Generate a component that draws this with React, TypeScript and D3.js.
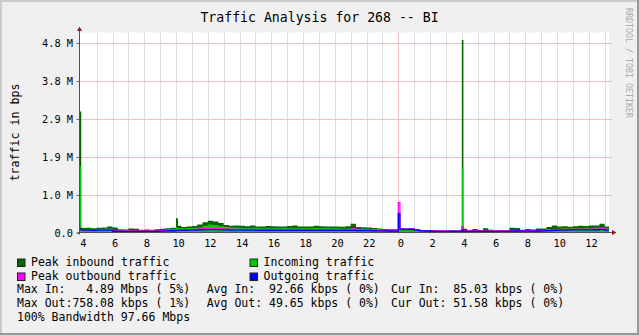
import React from 'react';
import * as d3 from 'd3';

const TITLE = 'Traffic Analysis for 268 -- BI';
const Y_TITLE = 'traffic in bps';
const WATERMARK = 'RRDTOOL / TOBI OETIKER';

// time in hours since midnight of the first day
const START_HOUR = 3.92;
const END_HOUR = 37.27;
const SLOT_START = 4;
const SLOTS_PER_HOUR = 3;
const Y_MAX = 5079000;

// 20-minute samples (kbps), 04:00 day 1 to 13:00 day 2
const peakInKbps = [
  115, 120, 110, 118, 125, 150, 130, 80, 75, 100, 95, 70, 75, 72, 80, 95, 110, 120,
  170, 140, 150, 165, 200, 260, 300, 280, 240, 190, 170, 180, 170, 160, 175, 155, 150, 165,
  160, 150, 155, 165, 175, 150, 150, 155, 170, 160, 150, 155, 150, 145, 160, 220, 140, 135,
  130, 115, 100, 90, 85, 80,
  75, 72, 75, 70, 65, 62, 55, 52, 50, 50, 55, 52, 95, 60, 90, 65, 110, 70,
  50, 52, 55, 120, 115, 70, 90, 75, 100, 100, 140, 180, 150, 160, 145, 160, 170, 165,
  175, 180, 220, 150,
];
const inKbps = [
  90, 88, 92, 90, 95, 100, 60, 55, 52, 55, 58, 52, 50, 55, 58, 65, 75, 85,
  105, 110, 115, 120, 125, 170, 200, 190, 160, 140, 130, 125, 120, 115, 118, 112, 110, 115,
  110, 108, 112, 110, 115, 108, 105, 110, 112, 108, 112, 105, 105, 100, 102, 100, 98, 95,
  92, 85, 80, 70, 68, 65,
  60, 58, 60, 55, 50, 48, 42, 40, 40, 40, 42, 40, 45, 42, 44, 45, 44, 42,
  40, 40, 42, 55, 60, 52, 55, 58, 60, 65, 80, 90, 100, 105, 110, 110, 115, 120,
  115, 118, 125, 105,
];
const peakOutKbps = [
  72, 75, 70, 74, 76, 80, 45, 40, 38, 40, 42, 38, 38, 40, 42, 48, 52, 58,
  70, 72, 75, 80, 85, 95, 100, 95, 90, 85, 82, 80, 80, 78, 76, 75, 74, 78,
  74, 72, 74, 75, 76, 72, 72, 74, 75, 74, 75, 72, 72, 70, 72, 90, 68, 66,
  65, 60, 55, 50, 48, 45,
  95, 90, 92, 70, 50, 45, 40, 38, 38, 38, 40, 38, 45, 40, 40, 40, 40, 38,
  38, 38, 40, 45, 48, 42, 45, 46, 48, 52, 60, 68, 75, 78, 80, 82, 85, 84,
  85, 86, 95, 80,
];
const outKbps = [
  58, 60, 57, 60, 58, 62, 32, 30, 28, 30, 30, 28, 28, 30, 32, 35, 40, 45,
  55, 55, 58, 62, 65, 70, 75, 72, 68, 65, 62, 60, 60, 58, 58, 56, 55, 57,
  55, 54, 55, 56, 57, 54, 54, 55, 56, 55, 56, 54, 54, 52, 53, 52, 50, 50,
  48, 45, 42, 40, 38, 36,
  85, 80, 82, 60, 40, 38, 32, 30, 30, 30, 30, 30, 32, 30, 30, 30, 30, 28,
  28, 28, 30, 35, 38, 34, 36, 37, 38, 42, 48, 55, 60, 62, 65, 66, 68, 66,
  68, 70, 72, 60,
];

// short spikes (kbps)
const spikeStart = [3.92, 10.0, 24.0, 28.0];
const spikeEnd = [4.03, 10.12, 24.1, 28.1];
const spikePeakIn = [3070, 360, 80, 4890];
const spikeIn = [1680, 130, 60, 1610];
const spikePeakOut = [120, 75, 758, 140];
const spikeOut = [90, 55, 475, 60];

const yTickValues = [0, 960000, 1920000, 2880000, 3840000, 4800000];
const yTickLabels = ['0.0', '1.0 M', '1.9 M', '2.9 M', '3.8 M', '4.8 M'];
const xLabelHours = [4, 6, 8, 10, 12, 14, 16, 18, 20, 22, 24, 26, 28, 30, 32, 34, 36];
const majorHours = [24];

const legendLabels = ['Peak inbound traffic', 'Incoming traffic', 'Peak outbound traffic', 'Outgoing traffic'];
const legendColors = ['#006600', '#00CC00', '#FF00FF', '#0000FF'];

const statsIn = ['Max In:   4.89 Mbps ( 5%)', 'Avg In:  92.66 kbps ( 0%)', 'Cur In:  85.03 kbps ( 0%)'];
const statsOut = ['Max Out:758.08 kbps ( 1%)', 'Avg Out: 49.65 kbps ( 0%)', 'Cur Out: 51.58 kbps ( 0%)'];
const bandwidthLine = '100% Bandwidth 97.66 Mbps';

type P = { t: number; pin: number; inn: number; pout: number; out: number };

function buildPoints(): P[] {
  const base: P[] = peakInKbps.map((v, i) => ({
    t: SLOT_START + i / SLOTS_PER_HOUR,
    pin: v * 1000,
    inn: inKbps[i] * 1000,
    pout: peakOutKbps[i] * 1000,
    out: outKbps[i] * 1000,
  }));
  const pts = base.filter(
    (p) => !spikeStart.some((s, k) => p.t >= s - 1e-6 && p.t < spikeEnd[k] - 1e-6)
  );
  spikeStart.forEach((s, k) => {
    pts.push({
      t: s,
      pin: spikePeakIn[k] * 1000,
      inn: spikeIn[k] * 1000,
      pout: spikePeakOut[k] * 1000,
      out: spikeOut[k] * 1000,
    });
    const idx = Math.max(
      0,
      Math.min(base.length - 1, Math.floor((spikeEnd[k] - SLOT_START) * SLOTS_PER_HOUR + 1e-6))
    );
    pts.push({ ...base[idx], t: spikeEnd[k] });
  });
  pts.sort((a, b) => a.t - b.t);
  pts.push({ ...pts[pts.length - 1], t: END_HOUR });
  return pts;
}

const FONT = "'DejaVu Sans Mono', monospace";

export default function App() {
  const W = 639;
  const H = 335;
  const left = 79.5;
  const right = 609;
  const top = 32.5;
  const bottom = 232.5;

  const x = d3.scaleLinear().domain([START_HOUR, END_HOUR]).range([left, right]);
  const y = d3.scaleLinear().domain([0, Y_MAX]).range([bottom, top]);
  const pts = buildPoints();

  const areaOf = (f: (d: P) => number) =>
    d3
      .area<P>()
      .x((d) => x(d.t))
      .y0(y(0))
      .y1((d) => y(f(d)))
      .curve(d3.curveStepAfter)(pts) || '';
  const lineOf = (f: (d: P) => number) =>
    d3
      .line<P>()
      .x((d) => x(d.t))
      .y((d) => y(f(d)))
      .curve(d3.curveStepAfter)(pts) || '';

  const gridHours = d3.range(Math.ceil(START_HOUR), Math.floor(END_HOUR) + 1);

  return (
    <svg
      width={W}
      height={H}
      style={{ position: 'absolute', left: 0, top: 0, display: 'block' }}
      fontFamily={FONT}
    >
      <defs>
        <clipPath id="plotclip">
          <rect x={left} y={top} width={right - left} height={bottom - top} />
        </clipPath>
      </defs>
      <rect x={0} y={0} width={W} height={H} fill="#F0F0F0" />
      {/* 3D border */}
      <rect x={0} y={0} width={W} height={2} fill="#CBCBCB" />
      <rect x={0} y={0} width={2} height={H} fill="#CBCBCB" />
      <rect x={0} y={H - 2} width={W} height={2} fill="#999999" />
      <rect x={W - 2} y={0} width={2} height={H} fill="#999999" />

      <rect x={left} y={top} width={right - left} height={bottom - top} fill="#FFFFFF" />

      {/* vertical grid */}
      {gridHours
        .filter((h) => x(h) - left > 2 && x(h) <= right)
        .map((h) => {
          const xx = Math.round(x(h)) + 0.5;
          const major = majorHours.includes(h);
          return (
            <line
              key={'vg' + h}
              x1={xx}
              x2={xx}
              y1={top}
              y2={bottom + 2}
              stroke={major ? '#F2C0C0' : '#DEDEDE'}
              strokeWidth={1}
            />
          );
        })}
      {/* horizontal grid */}
      {yTickValues.slice(1).map((v) => {
        const yy = Math.round(y(v)) + 0.5;
        return (
          <line key={'hg' + v} x1={left} x2={right + 3} y1={yy} y2={yy} stroke="#F0C0C0" strokeWidth={1} />
        );
      })}

      <g clipPath="url(#plotclip)">
        <path d={areaOf((d) => d.pin)} fill="#006600" />
        <path d={areaOf((d) => d.inn)} fill="#00CC00" />
        <path d={lineOf((d) => d.pout)} fill="none" stroke="#FF00FF" strokeWidth={1.3} />
        <path d={lineOf((d) => d.out)} fill="none" stroke="#0000FF" strokeWidth={1.3} />
      </g>

      {/* y ticks & labels */}
      {yTickValues.map((v, i) => {
        const yy = Math.round(y(v)) + 0.5;
        return (
          <g key={'yt' + v}>
            <line x1={left - 3} x2={left} y1={yy} y2={yy} stroke="#707070" />
            <text x={73} y={yy + 3.8} textAnchor="end" fontSize={10.3} fill="#000">
              {yTickLabels[i]}
            </text>
          </g>
        );
      })}
      {/* x labels */}
      {xLabelHours.map((h) => (
        <text key={'xl' + h} x={x(h) + 2.6} y={246.5} textAnchor="middle" fontSize={10.3} fill="#000">
          {String(h % 24)}
        </text>
      ))}

      {/* axes */}
      <line x1={left} x2={left} y1={bottom + 2} y2={29} stroke="#505050" strokeWidth={1} />
      <line x1={left - 2} x2={right + 3} y1={bottom} y2={bottom} stroke="#505050" strokeWidth={1} />
      <path d={`M${left - 2.5},${31} L${left + 2.5},${31} L${left},${26.5} Z`} fill="#8B1A1A" />
      <path d={`M${right + 3},${bottom - 2.5} L${right + 3},${bottom + 2.5} L${right + 7.5},${bottom} Z`} fill="#8B1A1A" />

      {/* title */}
      <text x={319.5} y={21.5} textAnchor="middle" fontSize={13.2} fill="#000">
        {TITLE}
      </text>
      {/* y title */}
      <text
        transform={`translate(19,${(top + bottom) / 2}) rotate(-90)`}
        textAnchor="middle"
        fontSize={11.6}
        fill="#000"
      >
        {Y_TITLE}
      </text>
      {/* watermark */}
      <text
        transform={`translate(625.5,8) rotate(90)`}
        textAnchor="start"
        fontSize={8.3}
        fill="#ABABAB"
      >
        {WATERMARK}
      </text>

      {/* legend */}
      {legendLabels.map((lab, i) => {
        const col = i % 2;
        const row = Math.floor(i / 2);
        const bx = col === 0 ? 17 : 249.5;
        const by = 258.5 + row * 14;
        return (
          <g key={'lg' + i}>
            <rect x={bx + 0.5} y={by + 0.5} width={7.5} height={7.5} fill={legendColors[i]} stroke="#222" strokeWidth={1} />
            <text x={bx + 14} y={by + 7} fontSize={11.5} fill="#000" style={{ whiteSpace: 'pre' }}>
              {lab}
            </text>
          </g>
        );
      })}
      {[statsIn, statsOut].map((row, r) =>
        row.map((s, c) => (
          <text
            key={'st' + r + c}
            x={[17, 206.7, 391][c]}
            y={293 + r * 14}
            fontSize={11.5}
            fill="#000"
            style={{ whiteSpace: 'pre' }}
          >
            {s}
          </text>
        ))
      )}
      <text x={17} y={321} fontSize={11.5} fill="#000" style={{ whiteSpace: 'pre' }}>
        {bandwidthLine}
      </text>
    </svg>
  );
}
